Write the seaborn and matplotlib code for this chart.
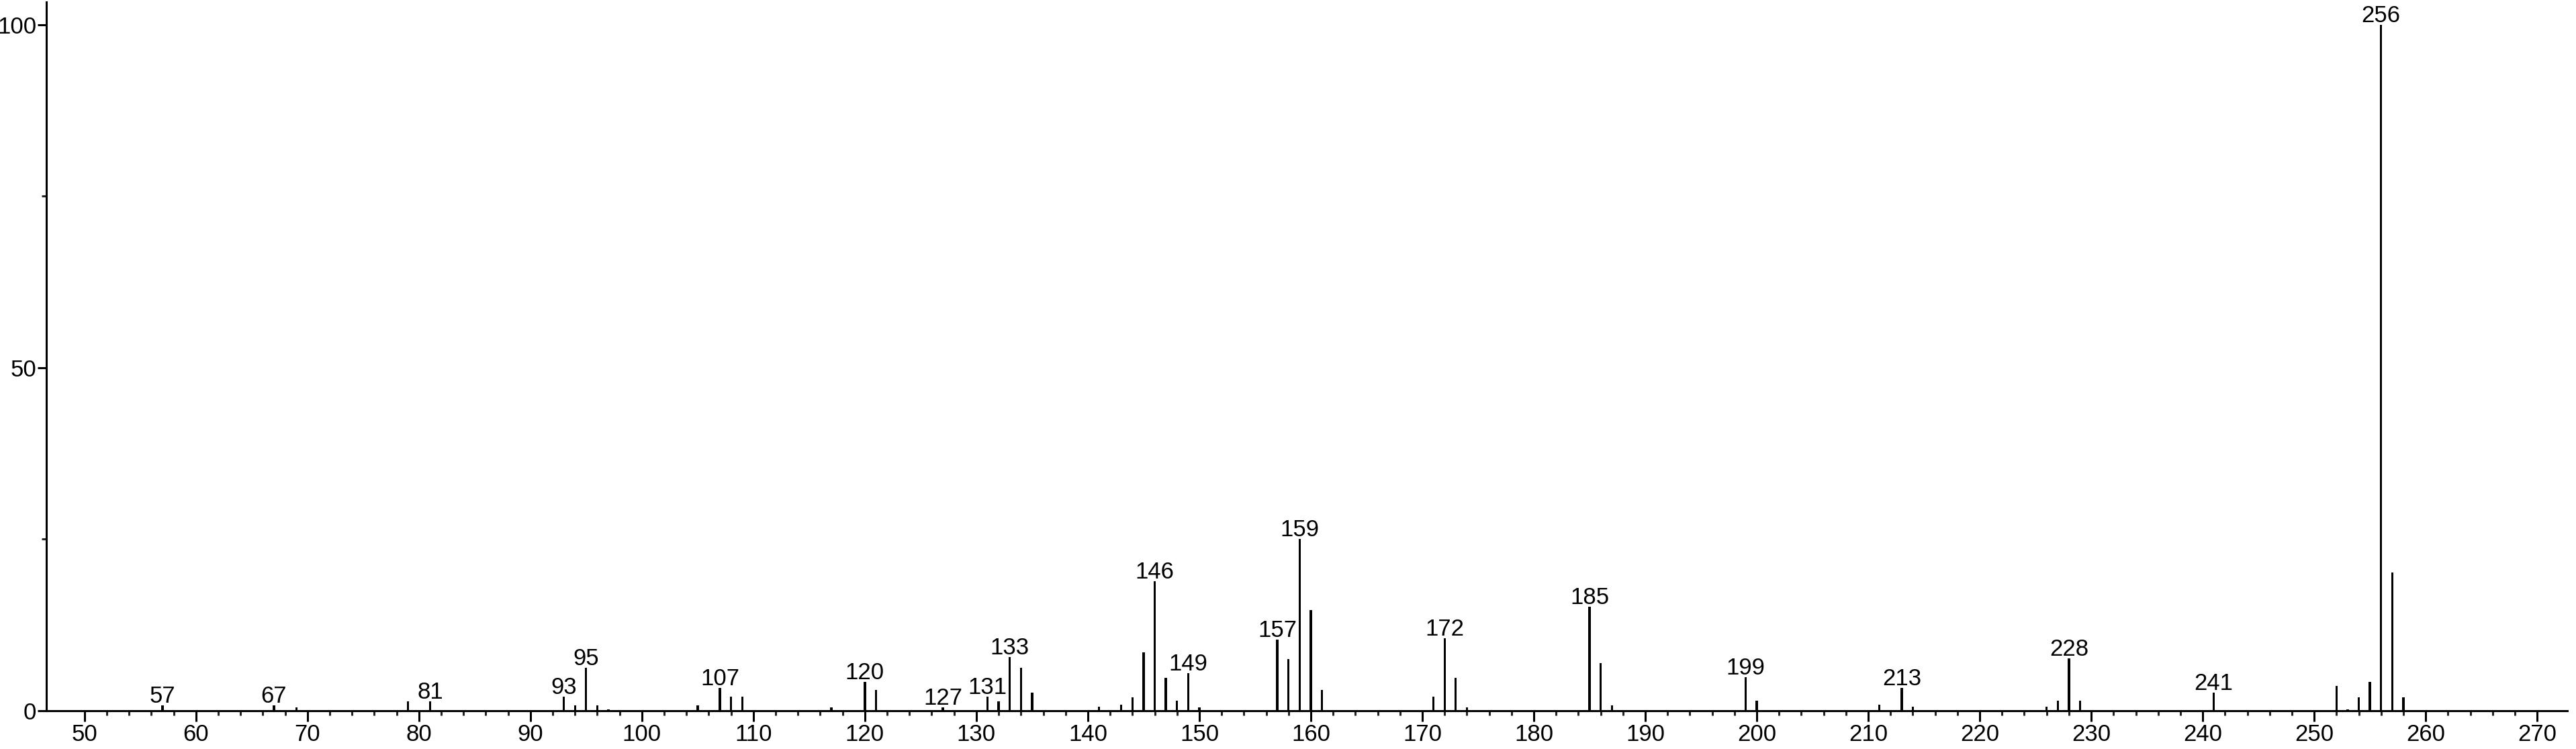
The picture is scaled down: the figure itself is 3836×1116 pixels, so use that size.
import matplotlib
matplotlib.use("Agg")
import matplotlib.pyplot as plt
import seaborn as sns
import pandas as pd
from matplotlib.ticker import FixedLocator

# ---- data ----
mz = [57, 67, 69, 79, 81, 93, 94, 95, 96, 97, 105, 107, 108, 109, 117, 120, 121,
      127, 131, 132, 133, 134, 135, 141, 143, 144, 145, 146, 147, 148, 149, 150,
      157, 158, 159, 160, 161, 171, 172, 173, 174, 185, 186, 187, 199, 200, 211,
      213, 214, 226, 227, 228, 229, 241, 252, 253, 254, 255, 256, 257, 258]
intensity = [0.8, 0.8, 0.5, 1.4, 1.4, 2.1, 0.8, 6.3, 0.8, 0.2, 0.8, 3.3, 2.1, 2.1,
             0.5, 4.2, 3.0, 0.5, 2.1, 1.4, 7.8, 6.3, 2.6, 0.6, 0.9, 2.0, 8.5, 18.9,
             4.8, 1.5, 5.5, 0.5, 10.4, 7.5, 25.0, 14.7, 3.0, 2.1, 10.6, 4.8, 0.5,
             15.2, 6.9, 0.8, 4.9, 1.5, 0.9, 3.3, 0.6, 0.6, 1.5, 7.6, 1.5, 2.6, 3.6,
             0.2, 2.0, 4.2, 100.0, 20.2, 2.0]
labeled_mz = [57, 67, 81, 93, 95, 107, 120, 127, 131, 133, 146, 149, 157, 159,
              172, 185, 199, 213, 228, 241, 256]
x_major_ticks = list(range(50, 271, 10))
x_minor_ticks = list(range(50, 271, 2))
y_major_ticks = [0, 50, 100]
y_minor_ticks = [25, 75]

df = pd.DataFrame({"mz": mz, "intensity": intensity})

sns.set_theme(style="ticks")
plt.rcParams["font.family"] = ["Liberation Sans", "DejaVu Sans"]

W, H = 3836, 1116
fig = plt.figure(figsize=(W / 100, H / 100), dpi=100)
x0, x1 = 69.3, 3823
y0, y1 = 1059, 3
ax = fig.add_axes([x0 / W, 1 - y0 / H, (x1 - x0) / W, (y0 - y1) / H])

sns.barplot(data=df, x="mz", y="intensity", native_scale=True, errorbar=None,
            width=0.2, color="black", linewidth=0, saturation=1, ax=ax)

ax.set_xlim(46.6, 272.7)
ax.set_ylim(0, 103.3)

FS = 25
lookup = dict(zip(mz, intensity))
for m in labeled_mz:
    ax.annotate(str(m), (m, lookup[m]), xytext=(0, 4), textcoords="offset pixels",
                ha="center", va="baseline", fontsize=FS, color="black")

ax.xaxis.set_major_locator(FixedLocator(x_major_ticks))
ax.xaxis.set_minor_locator(FixedLocator(x_minor_ticks))
ax.yaxis.set_major_locator(FixedLocator(y_major_ticks))
ax.yaxis.set_minor_locator(FixedLocator(y_minor_ticks))
ax.set_xticklabels([str(t) for t in x_major_ticks])
ax.set_yticklabels([str(t) for t in y_major_ticks])

ax.tick_params(axis="x", which="major", length=11.5, width=2.2, pad=2.5,
               labelsize=FS, colors="black", direction="out")
ax.tick_params(axis="x", which="minor", length=5, width=2.2, direction="out")
ax.tick_params(axis="y", which="major", length=9.4, width=2.2, pad=1.5,
               labelsize=FS, colors="black", direction="out")
ax.tick_params(axis="y", which="minor", length=5, width=2.2, direction="out")

ax.set_xlabel("")
ax.set_ylabel("")
sns.despine(ax=ax, top=True, right=True)
for s in ("left", "bottom"):
    ax.spines[s].set_linewidth(2.2)
    ax.spines[s].set_color("black")

fig.savefig("out.png", dpi=100, facecolor="white")
